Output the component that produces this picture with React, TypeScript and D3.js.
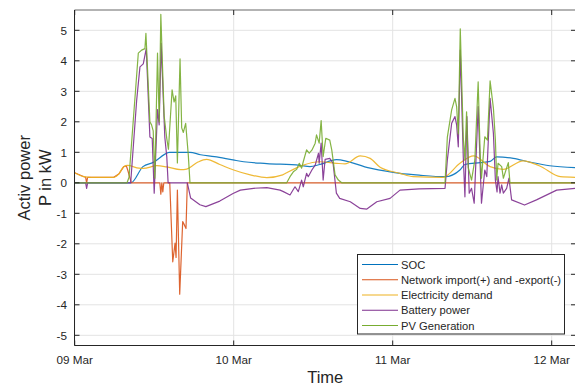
import { useEffect, useRef } from "react";
import * as d3 from "d3";

type Pt = [number, number]; // [hours since 09 Mar 00:00, value]

const dayLabels = ["09 Mar", "10 Mar", "11 Mar", "12 Mar"];
const yTicks = [-5, -4, -3, -2, -1, 0, 1, 2, 3, 4, 5];

const soc: Pt[] = [
  [0, 0], [8.5, 0], [10.3, 0.53], [11.86, 0.67], [14.1, 0.99], [14.3, 1.0], [17.4, 1.0],
  [19.0, 0.92], [21.1, 0.86], [23.9, 0.75], [25.5, 0.69], [29.0, 0.63], [34.0, 0.57],
  [35.5, 0.53], [37.0, 0.6], [39.5, 0.76], [44.6, 0.48], [49.1, 0.31], [52.0, 0.25],
  [55.9, 0.2], [58.15, 0.42], [58.9, 0.6], [61.2, 0.66], [62.7, 0.7], [63.7, 0.85],
  [66.2, 0.8], [68.7, 0.68], [71.7, 0.56], [75.6, 0.5],
];

const network: Pt[] = [
  [0, 0.33], [1.4, 0.2], [1.65, 0.18], [1.8, 0.0], [1.95, 0.18], [2.5, 0.18], [5.9, 0.18],
  [6.7, 0.3], [7.4, 0.53], [7.8, 0.55], [8.0, 0.42], [8.55, 0], [12.85, 0], [13.0, -0.37],
  [13.15, 0], [13.3, -0.3], [13.45, 0], [14.35, 0], [14.8, -2.59], [15.15, -1.98],
  [15.3, -2.45], [15.5, -0.24], [15.85, -3.65], [16.3, -1.27], [16.55, -1.38], [16.8, -1.5],
  [17.0, 0], [75.6, 0],
];

const demand: Pt[] = [
  [0, 0.33], [1.4, 0.2], [2.5, 0.18], [5.9, 0.18], [6.7, 0.3], [7.4, 0.53], [7.95, 0.57],
  [9.7, 0.48], [10.35, 0.47], [12.4, 0.56], [13.9, 0.52], [16.0, 0.43], [16.9, 0.45],
  [18.6, 0.68], [19.9, 0.77], [21.9, 0.6], [24.0, 0.42], [26.5, 0.26], [29.0, 0.17],
  [31.4, 0.26], [32.0, 0.33], [34.5, 0.58], [37.0, 0.69], [39.5, 0.64], [40.8, 0.62],
  [43.1, 0.88], [44.6, 0.8], [46.1, 0.51], [49.1, 0.31], [51.1, 0.2], [55.6, 0.18],
  [58.15, 0.64], [60.2, 0.88], [62.7, 0.53], [64.7, 0.44], [67.7, 0.72], [70.2, 0.55],
  [73.3, 0.2], [75.6, 0.18],
];

const battery: Pt[] = [
  [0, 0], [1.65, 0], [1.8, -0.18], [1.95, 0], [8.45, 0], [9.35, 2.7], [9.85, 3.8],
  [10.35, 3.9], [10.8, 4.4], [11.35, 1.5], [11.7, 1.45], [12.0, -0.34], [12.5, 2.4],
  [12.75, 1.9], [13.05, 4.57], [13.6, 1.5], [13.9, 0.85], [14.1, 0], [17.0, 0],
  [17.5, -0.5], [18.9, -0.72], [19.8, -0.78], [21.9, -0.6], [23.9, -0.35], [25.0, -0.24],
  [27.0, -0.18], [29.0, -0.16], [31.0, -0.24], [31.5, -0.29], [32.5, -0.4], [33.25, -0.13],
  [33.75, -0.29], [34.25, 0.09], [34.5, -0.13], [35.0, 0.31], [35.25, 0.2], [35.8, 0.42],
  [36.3, 0.58], [36.8, 0.97], [36.9, 0.64], [37.2, 1.3], [37.5, 0.09], [37.8, 0.77],
  [38.5, 0.8], [39.0, 0.64], [39.5, -0.34], [40.0, -0.51], [41.6, -0.62], [43.1, -0.84],
  [44.1, -0.86], [45.6, -0.62], [47.6, -0.51], [49.1, -0.24], [52.0, -0.2], [55.9, -0.18],
  [56.25, 0.75], [56.9, 1.95], [57.4, 2.17], [57.65, 1.9], [57.9, 1.18], [58.2, 4.35],
  [58.65, 0.86], [58.9, -0.46], [59.2, 2.17], [59.55, -0.34], [59.9, -0.18], [60.3, -0.67],
  [60.9, 2.5], [61.4, -0.67], [61.9, 0.42], [62.2, 0.2], [62.7, 2.77], [63.2, 1.62],
  [63.5, 0.09], [63.75, -0.3], [63.9, 0.2], [64.2, -0.34], [64.45, -0.07], [64.7, -0.34],
  [65.2, -0.18], [65.55, 0.15], [65.95, -0.56], [67.9, -0.73], [69.7, -0.56],
  [72.75, -0.24], [75.6, -0.18],
];

const pv: Pt[] = [
  [0, 0], [7.9, 0], [8.2, 0.18], [9.6, 4.25], [10.1, 4.35], [10.6, 4.4], [10.75, 4.9],
  [11.35, 2.0], [11.6, 1.9], [11.85, 1.7], [12.1, 0.15], [12.5, 4.25], [12.75, 2.0],
  [13.0, 5.52], [13.5, 2.2], [13.9, 1.45], [14.15, 1.1], [14.7, 3.05], [15.0, 2.65],
  [15.25, 2.85], [15.5, 0.65], [15.9, 4.06], [16.15, 1.8], [16.4, 1.65], [16.75, 1.95],
  [17.15, 0.9], [17.4, 0], [32.0, 0], [32.5, 0.2], [33.0, 0.36], [33.5, 0.44], [33.9, 0.64],
  [34.25, 0.48], [34.5, 0.69], [35.0, 1.08], [35.4, 0.97], [35.8, 1.07], [36.3, 1.3],
  [36.5, 1.57], [36.9, 1.3], [37.2, 2.04], [37.5, 0.86], [37.9, 1.46], [38.5, 1.4],
  [38.8, 1.08], [39.3, 0.26], [39.8, 0.09], [40.3, 0], [55.9, 0], [56.25, 1.5],
  [56.9, 2.39], [57.4, 2.77], [57.65, 2.5], [57.9, 1.6], [58.2, 5.05], [58.65, 1.5],
  [58.9, 0.75], [59.15, 2.33], [59.4, 0.5], [59.9, 0.09], [60.4, 0.75], [60.9, 3.31],
  [61.2, 0.97], [61.4, 0.15], [61.9, 1.51], [62.3, 1.4], [62.7, 3.34], [63.2, 2.45],
  [63.5, 1.4], [63.7, 0.09], [63.9, 0.64], [64.45, 0.53], [64.7, 0.15], [65.45, 0.66],
  [65.7, 0], [75.6, 0],
];

const series = [
  { name: "SOC", data: soc, color: "#0072BD", smooth: true },
  { name: "Network import(+) and -export(-)", data: network, color: "#D95319", smooth: false },
  { name: "Electricity demand", data: demand, color: "#EDB120", smooth: true },
  { name: "Battery power", data: battery, color: "#7E2F8E", smooth: false },
  { name: "PV Generation", data: pv, color: "#77AC30", smooth: false },
];

const W = 575;
const H = 385;
const left = 74.5;
const right = 576;
const top = 10;
const bottom = 345.5;
const font = "'Liberation Sans', Arial, sans-serif";
const ink = "#262626";

export default function App() {
  const svgRef = useRef<SVGSVGElement>(null);

  useEffect(() => {
    if (!svgRef.current) return;
    const svg = d3.select(svgRef.current);
    svg.selectAll("*").remove();

    const t0 = new Date(2021, 2, 9).getTime();
    const toDate = (h: number) => new Date(t0 + h * 3600e3);

    const x = d3
      .scaleTime()
      .domain([toDate(0), toDate(72)])
      .range([74.7, 551.7]);
    const y = d3.scaleLinear().domain([-5, 5]).range([335.3, 30.3]);

    svg
      .append("defs")
      .append("clipPath")
      .attr("id", "plot-clip")
      .append("rect")
      .attr("x", left)
      .attr("y", top)
      .attr("width", right - left)
      .attr("height", bottom - top);

    svg.append("rect").attr("width", W).attr("height", H).attr("fill", "#fff");

    const dayTicks = d3.range(dayLabels.length).map((i) => toDate(i * 24));

    // Grid
    const grid = svg.append("g").attr("stroke", "#e3e3e3").attr("stroke-width", 1);
    yTicks.forEach((v) => {
      grid.append("line").attr("x1", left).attr("x2", right).attr("y1", y(v)).attr("y2", y(v));
    });
    dayTicks.forEach((d) => {
      grid.append("line").attr("x1", x(d)).attr("x2", x(d)).attr("y1", top).attr("y2", bottom);
    });

    // Lines
    const plot = svg.append("g").attr("clip-path", "url(#plot-clip)");
    series.forEach((s) => {
      const line = d3
        .line<Pt>()
        .x((d) => x(toDate(d[0])))
        .y((d) => y(d[1]))
        .curve(s.smooth ? d3.curveMonotoneX : d3.curveLinear);
      plot
        .append("path")
        .datum(s.data)
        .attr("fill", "none")
        .attr("stroke", s.color)
        .attr("stroke-width", 1.2)
        .attr("stroke-opacity", 0.9)
        .attr("stroke-linejoin", "round")
        .attr("d", line);
    });

    // Box + ticks
    svg.append("line").attr("x1", left).attr("x2", right).attr("y1", top).attr("y2", top)
      .attr("stroke", "#9a9a9a").attr("stroke-width", 1.5);
    svg.append("line").attr("x1", left).attr("x2", left).attr("y1", top).attr("y2", bottom)
      .attr("stroke", ink);
    svg.append("line").attr("x1", left).attr("x2", right).attr("y1", bottom).attr("y2", bottom)
      .attr("stroke", ink);

    dayTicks.forEach((d, i) => {
      svg.append("line").attr("x1", x(d)).attr("x2", x(d)).attr("y1", bottom).attr("y2", bottom - 5)
        .attr("stroke", ink);
      svg.append("line").attr("x1", x(d)).attr("x2", x(d)).attr("y1", top).attr("y2", top + 5)
        .attr("stroke", ink);
      svg.append("text").attr("x", x(d)).attr("y", 364).attr("text-anchor", "middle")
        .attr("font-family", font).attr("font-size", 11.7).attr("fill", ink).text(dayLabels[i]);
    });

    yTicks.forEach((v) => {
      svg.append("line").attr("x1", left).attr("x2", left + 5).attr("y1", y(v)).attr("y2", y(v))
        .attr("stroke", ink);
      svg.append("line").attr("x1", right - 5).attr("x2", right).attr("y1", y(v)).attr("y2", y(v))
        .attr("stroke", ink);
      svg.append("text").attr("x", 67).attr("y", y(v)).attr("dy", "0.36em")
        .attr("text-anchor", "end").attr("font-family", font).attr("font-size", 11.7)
        .attr("fill", ink).text(String(v));
    });

    // Axis labels
    svg.append("text").attr("x", (left + right) / 2).attr("y", 383).attr("text-anchor", "middle")
      .attr("font-family", font).attr("font-size", 16.5).attr("fill", ink).text("Time");
    const yl = svg.append("text").attr("transform", `translate(0,${(top + bottom) / 2}) rotate(-90)`)
      .attr("text-anchor", "middle").attr("font-family", font).attr("font-size", 16.5).attr("fill", ink);
    yl.append("tspan").attr("x", 0).attr("y", 30).text("Activ power");
    yl.append("tspan").attr("x", 0).attr("y", 50.5).text("P in kW");

    // Legend
    const lg = svg.append("g");
    lg.append("rect").attr("x", 357.5).attr("y", 254.5).attr("width", 207).attr("height", 79.5)
      .attr("fill", "#fff").attr("stroke", ink).attr("stroke-width", 1);
    series.forEach((s, i) => {
      const cy = 264.5 + i * 15.25;
      lg.append("line").attr("x1", 362).attr("x2", 398).attr("y1", cy).attr("y2", cy)
        .attr("stroke", s.color).attr("stroke-width", 1.2);
      lg.append("text").attr("x", 401).attr("y", cy).attr("dy", "0.36em")
        .attr("font-family", font).attr("font-size", 11.2).attr("fill", ink).text(s.name);
    });
  }, []);

  return (
    <div style={{ position: "fixed", left: 0, top: 0 }}>
      <svg ref={svgRef} width={W} height={H} style={{ display: "block" }} />
    </div>
  );
}
